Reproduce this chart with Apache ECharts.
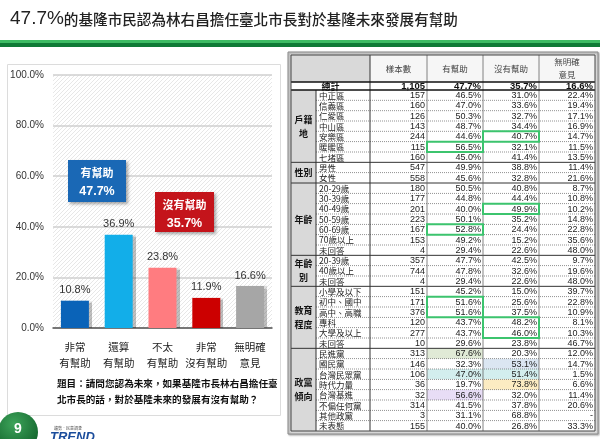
<!DOCTYPE html>
<html><head><meta charset="utf-8">
<script src="https://cdn.jsdelivr.net/npm/echarts@6/dist/echarts.min.js"></script>
<style>html,body{margin:0;padding:0;background:#fff;}#c{width:600px;height:439px;}</style>
</head><body><div id="c"></div>
<script>
// ---------- data ----------
const titleNumber = '47.7%';
const titleRest = '的基隆市民認為林右昌擔任臺北市長對於基隆未來發展有幫助';
const barCategories = ['非常\n有幫助', '還算\n有幫助', '不太\n有幫助', '非常\n沒有幫助', '無明確\n意見'];
const barValues = [10.8, 36.9, 23.8, 11.9, 16.6];
const summaryLabels = ['有幫助', '沒有幫助'];
const summaryValues = [47.7, 35.7];
const questionLines = ['題目：請問您認為未來，如果基隆市長林右昌擔任臺', '北市長的話，對於基隆未來的發展有沒有幫助？'];
const tableHeaders = ['樣本數', '有幫助', '沒有幫助', '無明確\n意見'];
const totalLabel = '總計';
const totalValues = [1105, 47.7, 35.7, 16.6];
const groupNames = ['戶籍\n地', '性別', '年齡', '年齡\n別', '教育\n程度', '政黨\n傾向'];
const groupSizes = [7, 2, 7, 3, 6, 8];
const rowLabels = ['中正區','信義區','仁愛區','中山區','安樂區','暖暖區','七堵區',
  '男性','女性',
  '20-29歲','30-39歲','40-49歲','50-59歲','60-69歲','70歲以上','未回答',
  '20-39歲','40歲以上','未回答',
  '小學及以下','初中、國中','高中、高職','專科','大學及以上','未回答',
  '民進黨','國民黨','台灣民眾黨','時代力量','台灣基進','不偏任何黨','其他政黨','未表態'];
const sampleSizes = [157,160,126,143,244,115,160, 547,558, 180,177,201,223,167,153,4, 357,744,4, 151,171,376,120,277,10, 313,146,106,36,32,314,3,155];
const helpful = [46.5,47.0,50.3,48.7,44.6,56.5,45.0, 49.9,45.6, 50.5,44.8,40.0,50.1,52.8,49.2,29.4, 47.7,47.8,29.4, 45.2,51.6,51.6,43.7,43.7,29.6, 67.6,32.3,47.0,19.7,56.6,41.5,31.1,40.0];
const notHelpful = [31.0,33.6,32.7,34.4,40.7,32.1,41.4, 38.8,32.8, 40.8,44.4,49.9,35.2,24.4,15.2,22.6, 42.5,32.6,22.6, 15.0,25.6,37.5,48.2,46.0,23.8, 20.3,53.1,51.4,73.8,32.0,37.8,68.8,26.8];
const noOpinion = [22.4,19.4,17.1,16.9,14.7,11.5,13.5, 11.4,21.6, 8.7,10.8,10.2,14.8,22.8,35.6,48.0, 9.7,19.6,48.0, 39.7,22.8,10.9,8.1,10.3,46.7, 12.0,14.7,1.5,6.6,11.4,20.6,null,33.3];
// highlights: [rowIndex, valueColumn(1=有幫助,2=沒有幫助), rowSpan]
const greenBoxes = [[5,1,1],[4,2,1],[11,2,1],[13,1,1],[20,1,2],[22,2,2]];
// shaded cells: [rowIndex, valueColumn, colour]
const shadedCells = [[25,1,'#e0ead6'],[26,2,'#dbe6f2'],[27,1,'#d3eeee'],[27,2,'#d3eeee'],[28,2,'#fcecc2'],[29,1,'#e8ddf6']];

// ---------- styling ----------
const barColors = ['#0a63b8', '#12aee9', '#ff7c80', '#cc0000', '#a6a6a6'];
const CJK = "'Noto Sans CJK TC', sans-serif";
const LAT = "'Liberation Sans', 'Noto Sans CJK TC', sans-serif";
const fmtPct = v => v == null ? '-' : v.toFixed(1) + '%';
const GRID = {left: 53, right: 328, top: 75, bottom: 111};
const plotW = 600 - GRID.right - GRID.left, plotH = 439 - GRID.bottom - GRID.top;

const G = [];
function rect(x, y, w, h, style, z) { G.push({type: 'rect', silent: true, z: z == null ? 1 : z, shape: {x: x, y: y, width: w, height: h}, style: style}); }
function line(x1, y1, x2, y2, style, z) { G.push({type: 'line', silent: true, z: z == null ? 3 : z, shape: {x1: x1, y1: y1, x2: x2, y2: y2}, style: style}); }
function text(x, y, t, st, z) {
  const s = Object.assign({text: t, fill: '#222', align: 'left', verticalAlign: 'middle'}, st);
  s.textAlign = s.align; s.textVerticalAlign = s.verticalAlign;
  G.push({type: 'text', silent: true, z: z || 6, x: x, y: y, style: s});
}

// plot hatch background (diagonal lines clipped to the plot area)
for (let k = 2; k < plotW + plotH; k += 4) {
  const u0 = Math.max(0, k - plotW), u1 = Math.min(plotH, k);
  line(GRID.left + k - u0, GRID.top + u0, GRID.left + k - u1, GRID.top + u1, {stroke: '#e7e7e7', lineWidth: 1}, 0);
}

// title + green rule
G.push({type: 'text', silent: true, z: 6, x: 10, y: 19, style: {
  text: '{a|' + titleNumber + '}{b|' + titleRest + '}', align: 'left', verticalAlign: 'middle', textAlign: 'left', textVerticalAlign: 'middle',
  rich: {a: {fontSize: 19, fontFamily: LAT, fill: '#222', fontWeight: 500}, b: {fontSize: 14.6, fontFamily: CJK, fill: '#222', fontWeight: 500}}
}});
rect(0, 40, 600, 3, {fill: '#3dbb63'});
rect(0, 43, 600, 4, {fill: '#0f7a36'});

// left panel frame
rect(7.5, 64.5, 273, 351, {fill: 'none', stroke: '#dcdcdc', lineWidth: 1}, 0);

// callout boxes
const calloutBoxes = [{x: 68, y: 160, w: 58, h: 42, c: '#1a68b5'}, {x: 155, y: 192, w: 59, h: 40, c: '#c4141b'}];
calloutBoxes.forEach((b, i) => {
  rect(b.x, b.y, b.w, b.h, {fill: b.c, shadowColor: 'rgba(0,0,0,0.35)', shadowBlur: 3, shadowOffsetX: 2, shadowOffsetY: 2}, 10);
  text(b.x + b.w / 2, b.y + 12.5, summaryLabels[i], {fill: '#fff', align: 'center', fontSize: 11, fontWeight: 'bold', fontFamily: CJK}, 11);
  text(b.x + b.w / 2, b.y + 31.5, fmtPct(summaryValues[i]), {fill: '#fff', align: 'center', fontSize: 12.5, fontWeight: 'bold', fontFamily: LAT}, 11);
});

// question text
questionLines.forEach((q, i) => text(57, 383 + i * 16, q, {fontSize: 9.6, fontWeight: 'bold', fontFamily: CJK, fill: '#111'}));

// page number + logo
G.push({type: 'circle', silent: true, z: 5, shape: {cx: 18, cy: 432, r: 20}, style: {fill: {type: 'radial', x: 0.4, y: 0.3, r: 0.8, colorStops: [{offset: 0, color: '#3da35a'}, {offset: 1, color: '#0d5e27'}]}}});
text(18, 429, '9', {fill: '#fff', align: 'center', fontSize: 14, fontWeight: 'bold', fontFamily: LAT}, 7);
text(68, 428, '趨勢．民意調查', {fill: '#555', align: 'center', fontSize: 4, fontFamily: CJK});
text(50, 437, 'TREND', {fill: '#1b4d9c', fontSize: 13, fontWeight: 'bold', fontStyle: 'italic', fontFamily: LAT});

// ---------- table ----------
const cx = [291, 316, 370, 427, 483, 539, 595];
const hTop = 55, hBot = 82, tBot = 90, tEnd = 431;
const rowH = (tEnd - tBot) / rowLabels.length;
const rowY = i => tBot + i * rowH;
// panel behind table
rect(288, 52, 310, 382, {fill: '#d8d8d8', stroke: '#8a8a8a', lineWidth: 1, shadowColor: 'rgba(0,0,0,0.3)', shadowBlur: 2, shadowOffsetX: 1, shadowOffsetY: 1}, 0);
// header
rect(cx[0], hTop, cx[2] - cx[0], hBot - hTop, {fill: '#d9d9d9'});
rect(cx[2], hTop, cx[6] - cx[2], hBot - hTop, {fill: '#f6f6f6'});
tableHeaders.forEach((h, j) => text((cx[j + 2] + cx[j + 3]) / 2, (hTop + hBot) / 2, h, {align: 'center', fontSize: 8.5, fontFamily: CJK, fill: '#444', lineHeight: 13}));
// total row
rect(cx[0], hBot, cx[6] - cx[0], tBot - hBot, {fill: '#fff'});
text((cx[0] + cx[2]) / 2, (hBot + tBot) / 2 + 0.5, totalLabel, {align: 'center', fontSize: 9, fontWeight: 'bold', fontFamily: CJK, fill: '#111'});
totalValues.forEach((v, j) => text(cx[j + 3] - 2, (hBot + tBot) / 2 + 0.5, j === 0 ? v.toLocaleString('en-US') : fmtPct(v), {align: 'right', fontSize: 9.5, fontWeight: 'bold', fontFamily: LAT, fill: '#111'}));
// body background
rect(cx[1], tBot, cx[6] - cx[1], tEnd - tBot, {fill: '#fff'});
shadedCells.forEach(s => rect(cx[s[1] + 2], rowY(s[0]), cx[s[1] + 3] - cx[s[1] + 2], rowH, {fill: s[2]}, 2));
// groups
let start = 0;
const groupStarts = [];
groupNames.forEach((g, k) => {
  groupStarts.push(start);
  const y0 = rowY(start), y1 = rowY(start + groupSizes[k]);
  rect(cx[0], y0, cx[1] - cx[0], y1 - y0, {fill: '#d9d9d9'});
  text((cx[0] + cx[1]) / 2, (y0 + y1) / 2, g, {align: 'center', fontSize: 9, fontWeight: 'bold', fontFamily: CJK, fill: '#111', lineHeight: 14});
  start += groupSizes[k];
});
// rows
rowLabels.forEach((lab, i) => {
  const yc = rowY(i) + rowH / 2 + 0.3;
  text(cx[1] + 3, yc, lab, {fontSize: 8.5, fontFamily: CJK, fill: '#222'});
  const vals = [String(sampleSizes[i]), fmtPct(helpful[i]), fmtPct(notHelpful[i]), fmtPct(noOpinion[i])];
  vals.forEach((v, j) => text(cx[j + 3] - 2, yc, v, {align: 'right', fontSize: 9, fontFamily: LAT, fill: '#222'}));
  if (i > 0 && groupStarts.indexOf(i) < 0) line(cx[1], rowY(i), cx[6], rowY(i), {stroke: '#777', lineWidth: 0.8, lineDash: [1, 1]});
});
// group separators
groupStarts.forEach((s, k) => { if (k > 0) line(cx[0], rowY(s), cx[6], rowY(s), {stroke: '#333', lineWidth: 1}); });
// vertical lines
line(cx[1], tBot, cx[1], tEnd, {stroke: '#333', lineWidth: 1});
line(cx[2], hTop, cx[2], tEnd, {stroke: '#333', lineWidth: 1});
[3, 4, 5].forEach(j => line(cx[j], hTop, cx[j], tEnd, {stroke: '#666', lineWidth: 0.8}));
// thick horizontals
line(cx[0], hBot, cx[6], hBot, {stroke: '#111', lineWidth: 1.6});
line(cx[0], tBot, cx[6], tBot, {stroke: '#111', lineWidth: 1.6});
// outer frame
rect(cx[0], hTop, cx[6] - cx[0], tEnd - hTop, {fill: 'none', stroke: '#444', lineWidth: 1}, 4);
// green boxes
greenBoxes.forEach(b => rect(cx[b[1] + 2], rowY(b[0]), cx[b[1] + 3] - cx[b[1] + 2], rowH * b[2], {fill: 'none', stroke: '#3cc46e', lineWidth: 2}, 8));

// ---------- chart ----------
const chart = echarts.init(document.getElementById('c'), null, {renderer: 'canvas'});
chart.setOption({
  animation: false,
  textStyle: {fontFamily: LAT},
  grid: Object.assign({borderWidth: 0}, GRID),
  xAxis: {
    type: 'category', data: barCategories,
    axisLine: {lineStyle: {color: '#555', width: 1.5}}, axisTick: {show: false},
    axisLabel: {interval: 0, fontSize: 10.5, color: '#222', lineHeight: 16, margin: 11, fontFamily: CJK}
  },
  yAxis: {
    type: 'value', min: 0, max: 100, interval: 20,
    axisLine: {show: false}, axisTick: {show: false},
    axisLabel: {formatter: v => v.toFixed(1) + '%', fontSize: 10, color: '#333', margin: 9},
    splitLine: {lineStyle: {color: '#cfcfcf', width: 1.5}}
  },
  series: [{
    type: 'bar', barWidth: 28, z: 5,
    data: barValues.map((v, i) => ({value: v, itemStyle: {color: barColors[i]}})),
    itemStyle: {shadowColor: 'rgba(0,0,0,0.25)', shadowBlur: 1, shadowOffsetX: 3, shadowOffsetY: 0},
    label: {show: true, position: 'top', distance: 5, formatter: p => fmtPct(p.value), fontSize: 11, color: '#333'}
  }],
  graphic: {elements: G}
});
</script></body></html>
